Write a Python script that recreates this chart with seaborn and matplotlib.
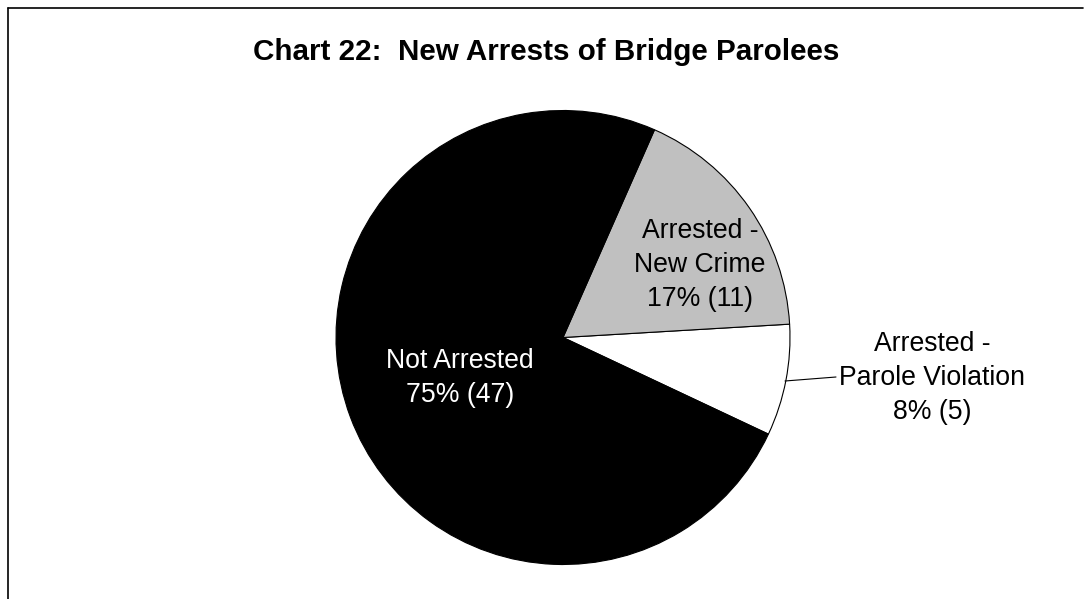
import matplotlib
matplotlib.use("Agg")
import matplotlib.pyplot as plt
import seaborn as sns
from matplotlib.lines import Line2D

sns.set_theme(style="white")
plt.rcParams['font.family'] = ['Liberation Sans', 'DejaVu Sans']
plt.rcParams['text.color'] = 'black'

# Data
categories = ["Arrested -\nParole Violation", "Arrested -\nNew Crime", "Not Arrested"]
counts = [5, 11, 47]
percent_labels = ["8%", "17%", "75%"]
colors = ["#FFFFFF", "#C0C0C0", "#000000"]
text_colors = ["black", "black", "white"]

W, H = 1092, 599
fig = plt.figure(figsize=(W / 100, H / 100), dpi=100)
fig.patch.set_facecolor("white")

cx, cy, r = 563, 337.5, 227
ax = fig.add_axes([(cx - r) / W, (H - cy - r) / H, 2 * r / W, 2 * r / H])
ax.pie(counts, colors=colors, startangle=-25.2, counterclock=True, radius=1,
       wedgeprops=dict(edgecolor="black", linewidth=0.8))
ax.set_xlim(-1, 1)
ax.set_ylim(-1, 1)
ax.set_aspect("equal")
ax.axis("off")

def px2d(px, py):
    return (px - cx) / r, (cy - py) / r

label_pos = [(932, 378), (700, 265), (460, 378)]
for cat, cnt, pct, tc, (px, py) in zip(categories, counts, percent_labels, text_colors, label_pos):
    x, y = px2d(px, py)
    ax.text(x, y, f"{cat}\n{pct} ({cnt})", ha="center", va="center", fontsize=19.2,
            color=tc, linespacing=1.42, clip_on=False)

# leader line for Parole Violation
x0, y0 = px2d(785, 381)
x1, y1 = px2d(836, 377)
ax.plot([x0, x1], [y0, y1], color="black", lw=0.8, clip_on=False)

fig.text(546 / W, 1 - 52 / H, "Chart 22:  New Arrests of Bridge Parolees",
         ha="center", va="center", fontsize=21.3, fontweight="bold", color="black")

# frame: top and left edges only visible
ytop = 1 - 7.5 / H
xl = 7.5 / W
fig.lines.append(Line2D([xl, 1083 / W], [ytop, ytop], color="black", lw=1.2,
                        transform=fig.transFigure))
fig.lines.append(Line2D([xl, xl], [0, ytop], color="black", lw=1.2,
                        transform=fig.transFigure))

fig.savefig("out.png", dpi=100, facecolor="white")
